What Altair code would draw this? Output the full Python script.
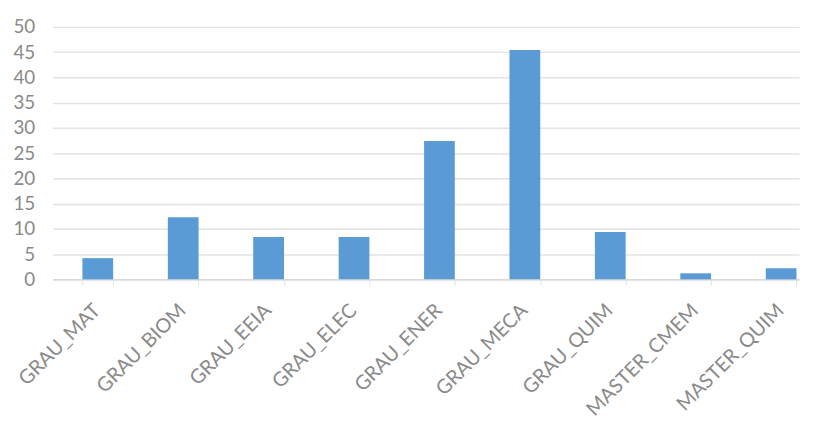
import altair as alt
import pandas as pd

categories = ["GRAU_MAT", "GRAU_BIOM", "GRAU_EEIA", "GRAU_ELEC", "GRAU_ENER",
              "GRAU_MECA", "GRAU_QUIM", "MASTER_CMEM", "MASTER_QUIM"]
values = [4.2, 12.3, 8.4, 8.4, 27.4, 45.4, 9.4, 1.2, 2.2]
y_ticks = list(range(0, 55, 5))

df = pd.DataFrame({"cat": categories, "val": values})

chart = alt.Chart(df).mark_bar(color="#5B9BD5").encode(
    x=alt.X("cat:N", sort=categories, title=None,
            scale=alt.Scale(paddingInner=0.64, paddingOuter=0.19, align=0.92),
            axis=alt.Axis(labelAngle=-45, labelFont="Lato", labelFontSize=20,
                          labelColor="#8a8a8a", labelPadding=15, labelOffset=-8,
                          domainColor="#d9d9d9", domainWidth=1.5,
                          ticks=True, tickBand="extent", tickColor="#e3e3e3",
                          tickSize=6, grid=False)),
    y=alt.Y("val:Q", title=None,
            scale=alt.Scale(domain=[0, 50], nice=False),
            axis=alt.Axis(values=y_ticks, labelFont="Lato", labelFontSize=19,
                          labelColor="#8a8a8a", labelPadding=18, ticks=False,
                          domain=False, gridColor="#e3e3e3", gridWidth=1.5)),
).properties(
    width=754, height=255,
    autosize=alt.AutoSizeParams(type="none"),
    padding={"left": 45, "top": 17, "right": 8, "bottom": 140},
).configure_view(stroke=None)

chart.save("out.html", embed_options={"renderer": "svg", "actions": False})
